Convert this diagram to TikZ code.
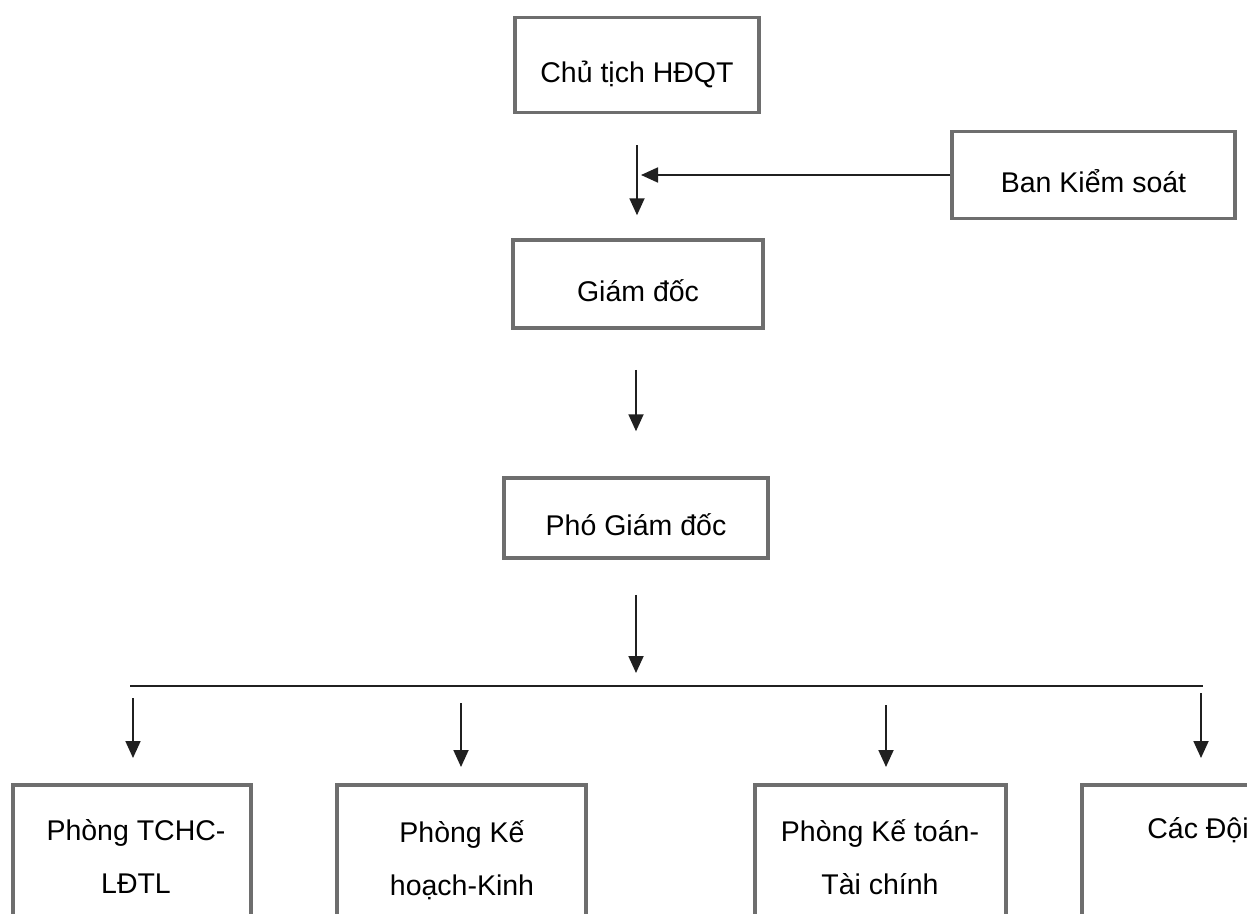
\documentclass[tikz,border=0pt]{standalone}
\usepackage{fontspec}
\setmainfont{Liberation Sans}
\usetikzlibrary{arrows.meta}
\definecolor{boxgray}{HTML}{6E6E6E}
\definecolor{ink}{HTML}{202020}
\tikzset{
  box/.style={draw=boxgray, line width=3.5pt, rectangle, inner sep=0pt, fill=white},
  lbl/.style={font=\fontsize{28.5}{53}\selectfont, text=black, inner sep=0pt, align=center},
  toplbl/.style={text height=34pt, text depth=0pt},
  arr/.style={draw=ink, line width=1.8pt, -{Triangle[length=17pt,width=15pt]}},
  bus/.style={draw=ink, line width=2.4pt}
}
\begin{document}
\begin{tikzpicture}[x=1pt,y=-1pt]
\clip (0,0) rectangle (1247,913);
\fill[white] (0,0) rectangle (1247,913);

% top chain
\node[box, lbl, toplbl, minimum width=244, minimum height=95] (ct) at (637,65) {Chủ tịch HĐQT};
\node[box, lbl, toplbl, minimum width=283, minimum height=87] (bks) at (1093.5,175) {Ban Kiểm soát};
\node[box, lbl, toplbl, minimum width=250, minimum height=88] (gd) at (638,284) {Giám đốc};
\node[box, lbl, toplbl, minimum width=264, minimum height=80] (pgd) at (636,518) {Phó Giám đốc};

\draw[arr, shorten <=31pt, shorten >=23pt] (ct.south -| 637,0) -- (gd.north -| 637,0);
\draw[arr, shorten >=4pt] (bks.west) -- (637,175);
\draw[arr, shorten <=40pt, shorten >=45pt] (gd.south -| 636,0) -- (pgd.north -| 636,0);

% bus
\coordinate (busL) at (130,686);
\coordinate (busR) at (1203,686);
\draw[arr, shorten <=35pt, shorten >=13pt] (pgd.south) -- (pgd.south |- busL);
\draw[bus] (busL) -- (busR);

% bottom boxes
\node[box, anchor=north, minimum width=238, minimum height=200] (b1) at (132,783) {};
\node[box, anchor=north, minimum width=249, minimum height=200] (b2) at (461.5,783) {};
\node[box, anchor=north, minimum width=251, minimum height=200] (b3) at (880.5,783) {};
\node[box, anchor=north west, minimum width=240, minimum height=200] (b4) at (1080,783) {};

% base anchor = baseline of the last line
\node[lbl, anchor=base] (t1) at (136,893) {Phòng TCHC-\\LĐTL};
\node[lbl, anchor=base] (t2) at (462,895) {Phòng Kế\\hoạch-Kinh};
\node[lbl, anchor=base] (t3) at (880,894) {Phòng Kế toán-\\Tài chính};
\node[lbl, anchor=base] (t4) at (1198,838) {Các Đội};

% drops
\coordinate (a1) at (133,698);
\coordinate (a2) at (461,703);
\coordinate (a3) at (886,705);
\coordinate (a4) at (1201,693);
\draw[arr, shorten >=25pt] (a1) -- (a1 |- b1.north);
\draw[arr, shorten >=16pt] (a2) -- (a2 |- b2.north);
\draw[arr, shorten >=16pt] (a3) -- (a3 |- b3.north);
\draw[arr, shorten >=25pt] (a4) -- (a4 |- b4.north);
\end{tikzpicture}
\end{document}
